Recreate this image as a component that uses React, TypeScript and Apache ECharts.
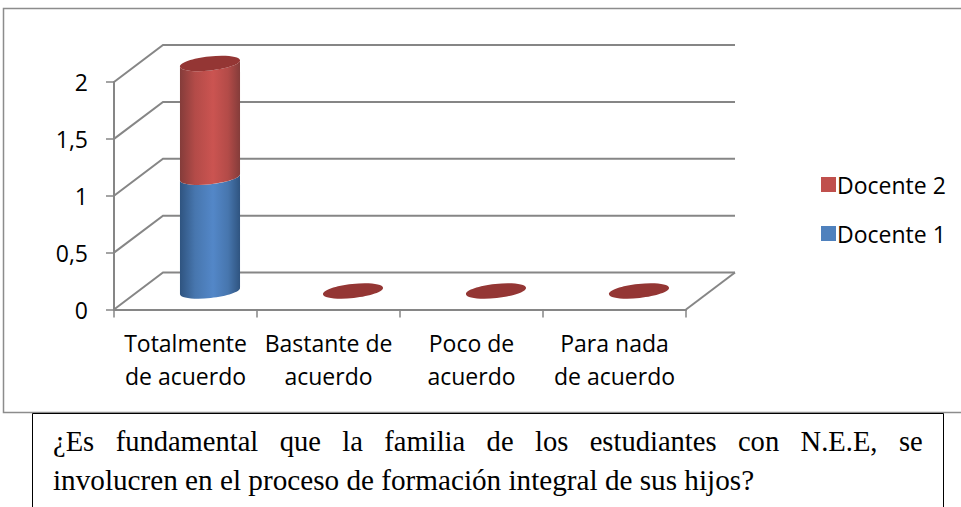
import React, { useEffect, useRef } from "react";
import * as echarts from "echarts";

const categories = ["Totalmente\nde acuerdo", "Bastante de\nacuerdo", "Poco de\nacuerdo", "Para nada\nde acuerdo"];
const docente1 = [1, 0, 0, 0];
const docente2 = [1, 0, 0, 0];
const yTicks = [0, 0.5, 1, 1.5, 2];
const captionLines = [
  "¿Es   fundamental   que   la   familia   de   los   estudiantes   con   N.E.E,   se",
  "involucren en el proceso de formación integral de sus hijos?",
];
const captionSizes = [28.55, 29.2];

const DX = 49;
const DY = -37;
const RX = 30.2;
const RY = 7;
const TILT = 6;
const AXIS = "#868686";
const FONT = '"Open Sans"';
const LABEL_SIZE = 23;

function cylinder(params: any, api: any, body: string[], cap: string | null) {
  const cat = api.value(0);
  const p0 = api.coord([cat, api.value(1)]);
  const p1 = api.coord([cat, api.value(2)]);
  const cx = p0[0] + DX / 2;
  const yb = p0[1] + DY / 2;
  const yt = p1[1] + DY / 2;
  const t = (TILT * Math.PI) / 180;
  const k = 0.5523;
  // lower half of the tilted ellipse, as two cubic curves, left to right
  const pt = (u: number, v: number, y: number) =>
    `${(cx + RX * u * Math.cos(t) + RY * v * Math.sin(t)).toFixed(2)} ${(y - RX * u * Math.sin(t) + RY * v * Math.cos(t)).toFixed(2)}`;
  const children: any[] = [];
  if (yb - yt > 0.5) {
    const d =
      `M${pt(-1, 0, yt)} C${pt(-1, k, yt)} ${pt(-k, 1, yt)} ${pt(0, 1, yt)} C${pt(k, 1, yt)} ${pt(1, k, yt)} ${pt(1, 0, yt)} ` +
      `L${pt(1, 0, yb)} C${pt(1, k, yb)} ${pt(k, 1, yb)} ${pt(0, 1, yb)} C${pt(-k, 1, yb)} ${pt(-1, k, yb)} ${pt(-1, 0, yb)} Z`;
    children.push({
      type: "path",
      shape: { pathData: d },
      style: {
        fill: new echarts.graphic.LinearGradient(0, 0, 1, 0, [
          { offset: 0, color: body[0] },
          { offset: 0.25, color: body[1] },
          { offset: 0.55, color: body[2] },
          { offset: 0.8, color: body[1] },
          { offset: 1, color: body[0] },
        ]),
      },
    });
  }
  if (cap) {
    children.push({
      type: "ellipse",
      x: cx,
      y: yt,
      rotation: t,
      shape: { cx: 0, cy: 0, rx: RX, ry: RY },
      style: { fill: cap },
    });
  }
  return { type: "group", children };
}

export default function App() {
  const ref = useRef<HTMLDivElement>(null);
  useEffect(() => {
    document.body.style.margin = "0";
    const chart = echarts.init(ref.current!, null, { renderer: "svg" });
    const stacked1 = docente1.map((v, i) => [i, 0, v]);
    const stacked2 = docente2.map((v, i) => [i, docente1[i], docente1[i] + v]);
    chart.setOption({
      animation: false,
      backgroundColor: "#fff",
      grid: { left: 114, top: 82, width: 572, height: 227.5 },
      legend: {
        data: ["Docente 2", "Docente 1"],
        orient: "vertical",
        left: 816,
        top: 168,
        icon: "rect",
        itemWidth: 15,
        itemHeight: 15,
        itemGap: 26,
        textStyle: { fontFamily: FONT, fontSize: LABEL_SIZE, color: "#000", padding: [0, 0, 0, -4] },
      },
      xAxis: {
        type: "category",
        data: categories,
        boundaryGap: true,
        axisLine: { lineStyle: { color: AXIS, width: 2 } },
        axisTick: { show: true, length: 8, alignWithLabel: false, lineStyle: { color: AXIS, width: 1.5 } },
        axisLabel: { interval: 0, margin: 17, fontFamily: FONT, fontSize: LABEL_SIZE, lineHeight: 33, color: "#000" },
      },
      yAxis: {
        type: "value",
        min: 0,
        max: 2,
        interval: 0.5,
        splitLine: { show: false },
        axisLine: { show: true, lineStyle: { color: AXIS, width: 2 } },
        axisTick: { show: true, length: 8, lineStyle: { color: AXIS, width: 1.5 } },
        axisLabel: {
          margin: 26,
          fontFamily: FONT,
          fontSize: LABEL_SIZE,
          color: "#000",
          formatter: (v: number) => String(v).replace(".", ","),
        },
      },
      series: [
        {
          type: "custom",
          name: "walls",
          silent: true,
          clip: false,
          z: 1,
          data: yTicks.map((v) => [0, v]),
          encode: { x: 0, y: 1 },
          renderItem: (params: any, api: any) => {
            const rect = params.coordSys;
            const v = api.value(1);
            const y = api.coord([0, v])[1];
            const x0 = rect.x;
            const x1 = rect.x + rect.width;
            const lineStyle = { stroke: AXIS, lineWidth: 2, fill: "none" };
            const children: any[] = [
              {
                type: "polyline",
                shape: { points: [[x0, y], [x0 + DX, y + DY], [x1 + DX, y + DY]] },
                style: lineStyle,
              },
            ];
            if (v === 0) {
              children.push({
                type: "line",
                shape: { x1, y1: y, x2: x1 + DX, y2: y + DY },
                style: lineStyle,
              });
            }
            return { type: "group", children };
          },
        },
        {
          type: "custom",
          name: "Docente 1",
          clip: false,
          z: 3,
          itemStyle: { color: "#4F81BD" },
          data: stacked1,
          encode: { x: 0, y: [1, 2] },
          renderItem: (p: any, api: any) => cylinder(p, api, ["#2F5480", "#4776AE", "#5387C8"], null),
        },
        {
          type: "custom",
          name: "Docente 2",
          clip: false,
          z: 4,
          itemStyle: { color: "#C0504D" },
          data: stacked2,
          encode: { x: 0, y: [1, 2] },
          renderItem: (p: any, api: any) => cylinder(p, api, ["#843C3A", "#B34B48", "#CB5451"], "#943634"),
        },
      ],
      graphic: [
        {
          type: "rect",
          z: -1,
          silent: true,
          shape: { x: 3.5, y: 8.5, width: 970, height: 404 },
          style: { fill: "#fff", stroke: "#8C8C8C", lineWidth: 1.5 },
        },
        {
          type: "rect",
          z: 10,
          silent: true,
          shape: { x: 32.5, y: 413.5, width: 911, height: 110 },
          style: { fill: "#fff", stroke: "#000", lineWidth: 1 },
        },
        ...captionLines.map((t, i) => ({
          type: "text",
          z: 11,
          silent: true,
          style: {
            x: 53,
            y: 427 + i * 38,
            text: t,
            fill: "#000",
            font: `${captionSizes[i]}px "Liberation Serif"`,
            verticalAlign: "top",
          },
        })),
      ],
    });
    return () => chart.dispose();
  }, []);
  return <div ref={ref} style={{ position: "absolute", left: 0, top: 0, width: 961, height: 507 }} />;
}
